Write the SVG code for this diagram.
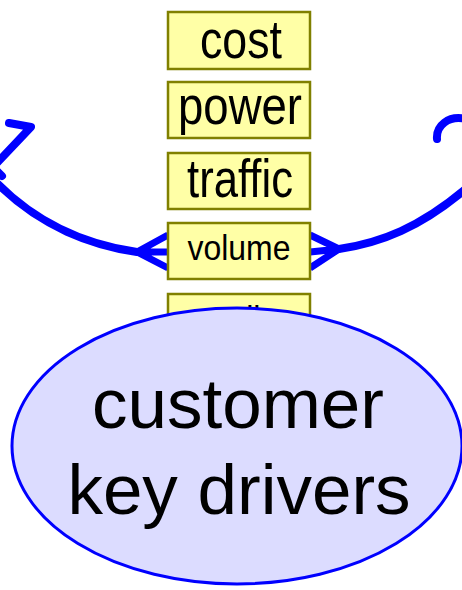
<svg xmlns="http://www.w3.org/2000/svg" width="462" height="590" viewBox="0 0 462 590">
  <style>
    .box { fill: #ffffa6; stroke: #808000; stroke-width: 2.5; }
    .lbl { font-family: "Liberation Sans", Arial, sans-serif; fill: #000; text-anchor: middle; }
    .big { font-size: 53px; }
    .small { font-size: 35px; }
    .link { fill: none; stroke: #0000ff; stroke-width: 8; stroke-linecap: round; stroke-linejoin: round; }
    .fork { fill: none; stroke: #0000ff; stroke-width: 7; stroke-linecap: butt; stroke-linejoin: round; }
    .hub { fill: #dcdcff; stroke: #0000ff; stroke-width: 3; }
    .hubtext { font-family: "Liberation Sans", Arial, sans-serif; font-size: 71px; fill: #000; text-anchor: middle; }
  </style>

  <!-- feedback loops around the driver stack -->
  <g id="connectors">
    <!-- left loop -->
    <path class="link" d="M137,252 C95,246 40,228 -6,180"/>
    <path class="fork" d="M137,252 L168,235 M137,252 L168,252 M137,252 L168,268"/>
    <path class="link" d="M9,123 L31,127 L-4,164"/>
    <path class="link" d="M-2,172 L2,176"/>
    <!-- right loop -->
    <path class="link" d="M339,249 C380,243 420,228 468,187"/>
    <path class="fork" d="M339,249 L310,235 M339,249 L310,252 M339,249 L310,268"/>
    <path class="link" d="M437,139 C436,126 448,115 466,119"/>
  </g>

  <g id="node-cost">
    <rect class="box" x="168" y="12" width="142" height="57"/>
    <text class="lbl big" x="241" y="58" textLength="82" lengthAdjust="spacingAndGlyphs">cost</text>
  </g>
  <g id="node-power">
    <rect class="box" x="168" y="82" width="142" height="56"/>
    <text class="lbl big" x="240" y="124" textLength="124" lengthAdjust="spacingAndGlyphs">power</text>
  </g>
  <g id="node-traffic">
    <rect class="box" x="168" y="153" width="142" height="56"/>
    <text class="lbl big" x="240" y="197" textLength="106" lengthAdjust="spacingAndGlyphs">traffic</text>
  </g>
  <g id="node-volume">
    <rect class="box" x="168" y="223" width="142" height="56"/>
    <text class="lbl small" x="239" y="260" textLength="103" lengthAdjust="spacingAndGlyphs">volume</text>
  </g>
  <g id="node-quality">
    <rect class="box" x="168" y="294" width="142" height="56"/>
    <text class="lbl small" x="239" y="331" textLength="93" lengthAdjust="spacingAndGlyphs">quality</text>
  </g>

  <g id="node-customer-key-drivers">
    <ellipse class="hub" cx="237" cy="446" rx="225" ry="138"/>
    <text class="hubtext" x="238" y="428">customer</text>
    <text class="hubtext" x="239" y="514">key drivers</text>
  </g>
</svg>
